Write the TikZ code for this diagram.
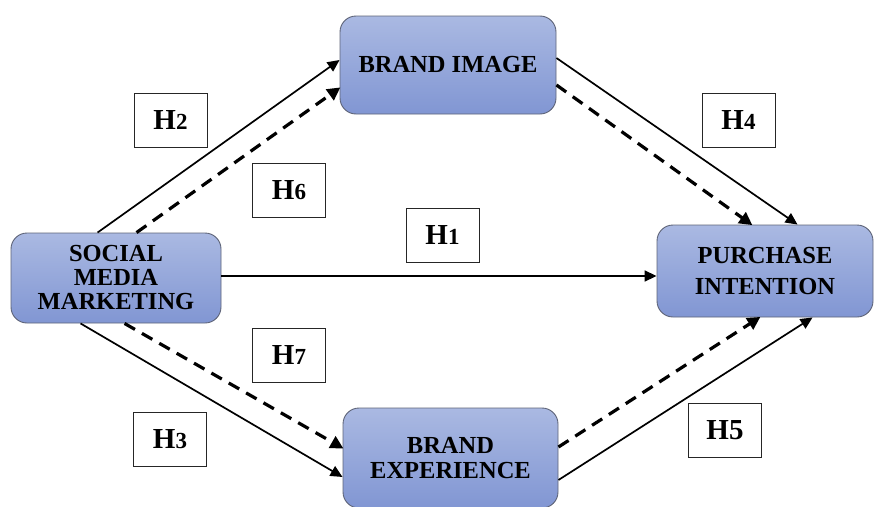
\documentclass[tikz,border=0pt]{standalone}
\usepackage{fontspec}
\setmainfont{Liberation Serif}
\usetikzlibrary{arrows.meta}
\definecolor{boxtop}{HTML}{AAB9E2}
\definecolor{boxbot}{HTML}{8196D3}
\definecolor{boxedge}{HTML}{5E6478}
\tikzset{
  construct/.style={rounded corners=16pt, draw=boxedge, line width=0.9pt,
    top color=boxtop, bottom color=boxbot, align=center, inner sep=0pt,
    font=\bfseries\fontsize{24.5}{25}\selectfont},
  hyp/.style={draw=black!85, line width=0.8pt, fill=white,
    minimum width=73pt, minimum height=54pt, inner sep=0pt,
    font=\bfseries\fontsize{29}{30}\selectfont},
  direct/.style={line width=1.7pt, -{Triangle[length=12pt,width=11pt]}},
  mediated/.style={line width=3.2pt, dash pattern=on 12pt off 8pt,
    -{Triangle[length=13pt,width=13pt]}, shorten >=-1pt}
}
\newcommand{\sdig}[1]{{\fontsize{23}{24}\selectfont #1}}
\begin{document}
\begin{tikzpicture}[x=1pt,y=-1pt]
\useasboundingbox (0,0) rectangle (875,506);
\clip (0,0) rectangle (875,506);
\fill[white] (0,0) rectangle (875,506);

% constructs
\node[construct, minimum width=210pt, minimum height=90pt] (smm) at (116,278)
  {SOCIAL\\[-1pt] MEDIA\\[-1pt] MARKETING};
\node[construct, minimum width=216pt, minimum height=98pt] (bi) at (448,65)
  {BRAND IMAGE};
\node[construct, minimum width=216pt, minimum height=92pt] (pi) at (765,271)
  {PURCHASE\\[6pt] INTENTION};
\node[construct, minimum width=215pt, minimum height=100pt] (be) at (450.5,458)
  {BRAND\\ EXPERIENCE};

% attachment points on the construct borders
\coordinate (a1) at ([xshift=87pt]smm.north west);
\coordinate (a2) at ([xshift=126pt]smm.north west);
\coordinate (b1) at ([yshift=5pt]bi.west);
\coordinate (b2) at ([yshift=-23pt]bi.west);
\coordinate (c1) at ([yshift=7pt]bi.east);
\coordinate (c2) at ([yshift=-20pt]bi.east);
\coordinate (d1) at ([xshift=141pt]pi.north west);
\coordinate (d2) at ([xshift=95pt]pi.north west);
\coordinate (e1) at ([xshift=70pt]smm.south west);
\coordinate (e2) at ([xshift=114pt]smm.south west);
\coordinate (f1) at ([yshift=-19pt]be.west);
\coordinate (f2) at ([yshift=10pt]be.west);
\coordinate (g1) at ([yshift=-22pt]be.east);
\coordinate (g2) at ([yshift=11pt]be.east);
\coordinate (k1) at ([xshift=156pt]pi.south west);
\coordinate (k2) at ([xshift=103pt]pi.south west);
\coordinate (m1) at ([yshift=2pt]smm.east);

% paths
\draw[direct] (a1) -- (b1);
\draw[mediated] (a2) -- (b2);
\draw[direct] (c1) -- (d1);
\draw[mediated] (c2) -- (d2);
\draw[direct] (m1) -- (m1 -| pi.west);
\draw[direct] (e1) -- (f1);
\draw[mediated] (e2) -- (f2);
\draw[direct] (g1) -- (k1);
\draw[mediated] (g2) -- (k2);

% hypothesis labels
\node[hyp] (h2) at (170.5,120) {H\sdig{2}};
\node[hyp] (h6) at (289,190) {H\sdig{6}};
\node[hyp] (h1) at (442.5,235) {H\sdig{1}};
\node[hyp] (h4) at (738.5,120) {H\sdig{4}};
\node[hyp] (h7) at (289,355) {H\sdig{7}};
\node[hyp] (h3) at (170,439) {H\sdig{3}};
\node[hyp] (h5) at (725,430) {H5};
\end{tikzpicture}
\end{document}
